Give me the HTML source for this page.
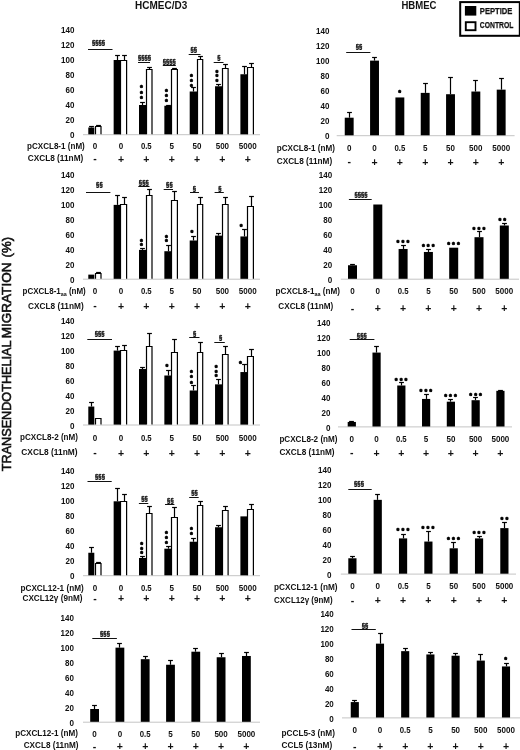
<!DOCTYPE html>
<html lang="en">
<head>
<meta charset="utf-8">
<title>Transendothelial migration</title>
<style>
html,body{margin:0;padding:0;background:#fff;}
body{width:520px;height:750px;overflow:hidden;}
svg{display:block;font-family:"Liberation Sans",sans-serif;filter:blur(0.35px);}
</style>
</head>
<body>
<svg width="520" height="750" viewBox="0 0 520 750">
<rect x="0" y="0" width="520" height="750" fill="#fff"/>
<text x="74.4" y="138.4" font-size="8.6" text-anchor="end" font-weight="bold" textLength="4.5" lengthAdjust="spacingAndGlyphs" fill="#111">0</text>
<text x="74.4" y="123.4" font-size="8.6" text-anchor="end" font-weight="bold" textLength="8.9" lengthAdjust="spacingAndGlyphs" fill="#111">20</text>
<text x="74.4" y="108.4" font-size="8.6" text-anchor="end" font-weight="bold" textLength="8.9" lengthAdjust="spacingAndGlyphs" fill="#111">40</text>
<text x="74.4" y="93.4" font-size="8.6" text-anchor="end" font-weight="bold" textLength="8.9" lengthAdjust="spacingAndGlyphs" fill="#111">60</text>
<text x="74.4" y="78.4" font-size="8.6" text-anchor="end" font-weight="bold" textLength="8.9" lengthAdjust="spacingAndGlyphs" fill="#111">80</text>
<text x="74.4" y="63.4" font-size="8.6" text-anchor="end" font-weight="bold" textLength="13.4" lengthAdjust="spacingAndGlyphs" fill="#111">100</text>
<text x="74.4" y="48.4" font-size="8.6" text-anchor="end" font-weight="bold" textLength="13.4" lengthAdjust="spacingAndGlyphs" fill="#111">120</text>
<text x="74.4" y="33.4" font-size="8.6" text-anchor="end" font-weight="bold" textLength="13.4" lengthAdjust="spacingAndGlyphs" fill="#111">140</text>
<line x1="83.00" y1="134.70" x2="260.00" y2="134.70" stroke="#c4c4c4" stroke-width="1.0"/>
<rect x="88.30" y="127.50" width="6.00" height="6.80" fill="#000"/>
<line x1="91.50" y1="127.50" x2="91.50" y2="126.00" stroke="#000" stroke-width="1.2"/>
<line x1="89.10" y1="126.50" x2="93.90" y2="126.50" stroke="#000" stroke-width="1.2"/>
<line x1="98.50" y1="126.50" x2="98.50" y2="125.00" stroke="#000" stroke-width="1.2"/>
<line x1="96.10" y1="125.50" x2="100.90" y2="125.50" stroke="#000" stroke-width="1.2"/>
<rect x="95.50" y="126.50" width="5.50" height="7.80" fill="#fff"/>
<path d="M95.5 134.3V126.5H101.0V134.3" fill="none" stroke="#000" stroke-width="1.2"/>
<rect x="113.65" y="60.00" width="7.30" height="74.30" fill="#000"/>
<line x1="117.50" y1="60.00" x2="117.50" y2="55.00" stroke="#000" stroke-width="1.2"/>
<line x1="115.10" y1="55.50" x2="119.90" y2="55.50" stroke="#000" stroke-width="1.2"/>
<line x1="124.50" y1="60.50" x2="124.50" y2="55.00" stroke="#000" stroke-width="1.2"/>
<line x1="122.10" y1="55.50" x2="126.90" y2="55.50" stroke="#000" stroke-width="1.2"/>
<rect x="120.50" y="60.50" width="6.15" height="73.80" fill="#fff"/>
<path d="M120.5 134.3V60.5H126.6V134.3" fill="none" stroke="#000" stroke-width="1.2"/>
<rect x="139.00" y="105.00" width="7.30" height="29.30" fill="#000"/>
<line x1="142.50" y1="105.00" x2="142.50" y2="102.00" stroke="#000" stroke-width="1.2"/>
<line x1="140.10" y1="102.50" x2="144.90" y2="102.50" stroke="#000" stroke-width="1.2"/>
<line x1="149.50" y1="69.50" x2="149.50" y2="67.00" stroke="#000" stroke-width="1.2"/>
<line x1="147.10" y1="67.50" x2="151.90" y2="67.50" stroke="#000" stroke-width="1.2"/>
<rect x="146.50" y="69.50" width="5.50" height="64.80" fill="#fff"/>
<path d="M146.5 134.3V69.5H152.0V134.3" fill="none" stroke="#000" stroke-width="1.2"/>
<rect x="164.35" y="105.75" width="7.30" height="28.55" fill="#000"/>
<line x1="168.50" y1="105.75" x2="168.50" y2="105.00" stroke="#000" stroke-width="1.2"/>
<line x1="166.10" y1="105.50" x2="170.90" y2="105.50" stroke="#000" stroke-width="1.2"/>
<line x1="174.50" y1="69.50" x2="174.50" y2="68.00" stroke="#000" stroke-width="1.2"/>
<line x1="172.10" y1="68.50" x2="176.90" y2="68.50" stroke="#000" stroke-width="1.2"/>
<rect x="171.50" y="69.50" width="5.85" height="64.80" fill="#fff"/>
<path d="M171.5 134.3V69.5H177.4V134.3" fill="none" stroke="#000" stroke-width="1.2"/>
<rect x="189.70" y="91.50" width="7.30" height="42.80" fill="#000"/>
<line x1="193.50" y1="91.50" x2="193.50" y2="87.00" stroke="#000" stroke-width="1.2"/>
<line x1="191.10" y1="87.50" x2="195.90" y2="87.50" stroke="#000" stroke-width="1.2"/>
<line x1="200.50" y1="59.50" x2="200.50" y2="56.00" stroke="#000" stroke-width="1.2"/>
<line x1="198.10" y1="56.50" x2="202.90" y2="56.50" stroke="#000" stroke-width="1.2"/>
<rect x="197.50" y="59.50" width="5.20" height="74.80" fill="#fff"/>
<path d="M197.5 134.3V59.5H202.7V134.3" fill="none" stroke="#000" stroke-width="1.2"/>
<rect x="215.05" y="86.25" width="7.30" height="48.05" fill="#000"/>
<line x1="218.50" y1="86.25" x2="218.50" y2="84.00" stroke="#000" stroke-width="1.2"/>
<line x1="216.10" y1="84.50" x2="220.90" y2="84.50" stroke="#000" stroke-width="1.2"/>
<line x1="225.50" y1="68.50" x2="225.50" y2="64.00" stroke="#000" stroke-width="1.2"/>
<line x1="223.10" y1="64.50" x2="227.90" y2="64.50" stroke="#000" stroke-width="1.2"/>
<rect x="222.50" y="68.50" width="5.55" height="65.80" fill="#fff"/>
<path d="M222.5 134.3V68.5H228.1V134.3" fill="none" stroke="#000" stroke-width="1.2"/>
<rect x="240.40" y="74.25" width="7.30" height="60.05" fill="#000"/>
<line x1="244.50" y1="74.25" x2="244.50" y2="66.00" stroke="#000" stroke-width="1.2"/>
<line x1="242.10" y1="66.50" x2="246.90" y2="66.50" stroke="#000" stroke-width="1.2"/>
<line x1="251.50" y1="67.50" x2="251.50" y2="63.00" stroke="#000" stroke-width="1.2"/>
<line x1="249.10" y1="63.50" x2="253.90" y2="63.50" stroke="#000" stroke-width="1.2"/>
<rect x="247.50" y="67.50" width="5.90" height="66.80" fill="#fff"/>
<path d="M247.5 134.3V67.5H253.4V134.3" fill="none" stroke="#000" stroke-width="1.2"/>
<text x="98.5" y="45.0" font-size="6.5" text-anchor="middle" font-weight="bold" textLength="13.2" lengthAdjust="spacingAndGlyphs" fill="#111" stroke="#111" stroke-width="0.35">§§§§</text>
<line x1="88.00" y1="49.50" x2="112.50" y2="49.50" stroke="#111" stroke-width="1.0"/>
<text x="144.5" y="60.4" font-size="6.5" text-anchor="middle" font-weight="bold" textLength="13.2" lengthAdjust="spacingAndGlyphs" fill="#111" stroke="#111" stroke-width="0.35">§§§§</text>
<line x1="138.00" y1="62.50" x2="150.00" y2="62.50" stroke="#111" stroke-width="1.0"/>
<text x="169.3" y="63.6" font-size="6.5" text-anchor="middle" font-weight="bold" textLength="13.2" lengthAdjust="spacingAndGlyphs" fill="#111" stroke="#111" stroke-width="0.35">§§§§</text>
<line x1="162.80" y1="65.50" x2="175.80" y2="65.50" stroke="#111" stroke-width="1.0"/>
<text x="193.8" y="52.0" font-size="6.5" text-anchor="middle" font-weight="bold" textLength="6.6" lengthAdjust="spacingAndGlyphs" fill="#111" stroke="#111" stroke-width="0.35">§§</text>
<line x1="188.70" y1="54.50" x2="200.50" y2="54.50" stroke="#111" stroke-width="1.0"/>
<text x="218.9" y="60.4" font-size="6.5" text-anchor="middle" font-weight="bold" textLength="3.3" lengthAdjust="spacingAndGlyphs" fill="#111" stroke="#111" stroke-width="0.35">§</text>
<line x1="213.70" y1="62.50" x2="223.50" y2="62.50" stroke="#111" stroke-width="1.0"/>
<text x="139.9 139.9 139.9" y="90.4 95.8 101.1" font-size="7.2" font-weight="bold" fill="#000" stroke="#000" stroke-width="0.75" stroke-linejoin="round">***</text>
<text x="164.9 164.9 164.9" y="94.1 99.0 103.8" font-size="7.2" font-weight="bold" fill="#000" stroke="#000" stroke-width="0.75" stroke-linejoin="round">***</text>
<text x="189.9 189.9 189.9" y="78.8 83.7 88.6" font-size="7.2" font-weight="bold" fill="#000" stroke="#000" stroke-width="0.75" stroke-linejoin="round">***</text>
<text x="215.5 215.5 215.5" y="74.6 79.4 84.2" font-size="7.2" font-weight="bold" fill="#000" stroke="#000" stroke-width="0.75" stroke-linejoin="round">***</text>
<text x="27.0" y="148.9" font-size="9.3" font-weight="bold" textLength="57.8" lengthAdjust="spacingAndGlyphs" fill="#111">pCXCL8-1 (nM)</text>
<text x="27.7" y="160.9" font-size="9.3" font-weight="bold" textLength="55.6" lengthAdjust="spacingAndGlyphs" fill="#111">CXCL8 (11nM)</text>
<text x="95.0" y="148.8" font-size="8.7" text-anchor="middle" font-weight="bold" textLength="4.5" lengthAdjust="spacingAndGlyphs" fill="#111">0</text>
<text x="121.0" y="148.8" font-size="8.7" text-anchor="middle" font-weight="bold" textLength="4.5" lengthAdjust="spacingAndGlyphs" fill="#111">0</text>
<text x="146.3" y="148.8" font-size="8.7" text-anchor="middle" font-weight="bold" textLength="10.8" lengthAdjust="spacingAndGlyphs" fill="#111">0.5</text>
<text x="171.7" y="148.8" font-size="8.7" text-anchor="middle" font-weight="bold" textLength="4.5" lengthAdjust="spacingAndGlyphs" fill="#111">5</text>
<text x="197.0" y="148.8" font-size="8.7" text-anchor="middle" font-weight="bold" textLength="8.9" lengthAdjust="spacingAndGlyphs" fill="#111">50</text>
<text x="222.4" y="148.8" font-size="8.7" text-anchor="middle" font-weight="bold" textLength="13.4" lengthAdjust="spacingAndGlyphs" fill="#111">500</text>
<text x="247.7" y="148.8" font-size="8.7" text-anchor="middle" font-weight="bold" textLength="17.9" lengthAdjust="spacingAndGlyphs" fill="#111">5000</text>
<text x="95.0" y="162.2" font-size="10.5" text-anchor="middle" font-weight="bold" fill="#111">-</text>
<text x="121.0" y="162.6" font-size="10.5" text-anchor="middle" font-weight="bold" fill="#111">+</text>
<text x="146.3" y="162.6" font-size="10.5" text-anchor="middle" font-weight="bold" fill="#111">+</text>
<text x="171.7" y="162.6" font-size="10.5" text-anchor="middle" font-weight="bold" fill="#111">+</text>
<text x="197.0" y="162.6" font-size="10.5" text-anchor="middle" font-weight="bold" fill="#111">+</text>
<text x="222.4" y="162.6" font-size="10.5" text-anchor="middle" font-weight="bold" fill="#111">+</text>
<text x="247.7" y="162.6" font-size="10.5" text-anchor="middle" font-weight="bold" fill="#111">+</text>
<text x="74.4" y="282.9" font-size="8.6" text-anchor="end" font-weight="bold" textLength="4.5" lengthAdjust="spacingAndGlyphs" fill="#111">0</text>
<text x="74.4" y="267.9" font-size="8.6" text-anchor="end" font-weight="bold" textLength="8.9" lengthAdjust="spacingAndGlyphs" fill="#111">20</text>
<text x="74.4" y="252.9" font-size="8.6" text-anchor="end" font-weight="bold" textLength="8.9" lengthAdjust="spacingAndGlyphs" fill="#111">40</text>
<text x="74.4" y="237.9" font-size="8.6" text-anchor="end" font-weight="bold" textLength="8.9" lengthAdjust="spacingAndGlyphs" fill="#111">60</text>
<text x="74.4" y="222.9" font-size="8.6" text-anchor="end" font-weight="bold" textLength="8.9" lengthAdjust="spacingAndGlyphs" fill="#111">80</text>
<text x="74.4" y="207.9" font-size="8.6" text-anchor="end" font-weight="bold" textLength="13.4" lengthAdjust="spacingAndGlyphs" fill="#111">100</text>
<text x="74.4" y="192.9" font-size="8.6" text-anchor="end" font-weight="bold" textLength="13.4" lengthAdjust="spacingAndGlyphs" fill="#111">120</text>
<text x="74.4" y="177.9" font-size="8.6" text-anchor="end" font-weight="bold" textLength="13.4" lengthAdjust="spacingAndGlyphs" fill="#111">140</text>
<line x1="83.00" y1="279.20" x2="260.00" y2="279.20" stroke="#c4c4c4" stroke-width="1.0"/>
<rect x="88.30" y="274.62" width="6.00" height="4.18" fill="#000"/>
<line x1="98.50" y1="273.50" x2="98.50" y2="272.00" stroke="#000" stroke-width="1.2"/>
<line x1="96.10" y1="272.50" x2="100.90" y2="272.50" stroke="#000" stroke-width="1.2"/>
<rect x="95.50" y="273.50" width="5.50" height="5.30" fill="#fff"/>
<path d="M95.5 278.8V273.5H101.0V278.8" fill="none" stroke="#000" stroke-width="1.2"/>
<rect x="113.65" y="204.88" width="7.30" height="73.93" fill="#000"/>
<line x1="117.50" y1="204.88" x2="117.50" y2="195.00" stroke="#000" stroke-width="1.2"/>
<line x1="115.10" y1="195.50" x2="119.90" y2="195.50" stroke="#000" stroke-width="1.2"/>
<line x1="124.50" y1="204.50" x2="124.50" y2="197.00" stroke="#000" stroke-width="1.2"/>
<line x1="122.10" y1="197.50" x2="126.90" y2="197.50" stroke="#000" stroke-width="1.2"/>
<rect x="120.50" y="204.50" width="6.15" height="74.30" fill="#fff"/>
<path d="M120.5 278.8V204.5H126.6V278.8" fill="none" stroke="#000" stroke-width="1.2"/>
<rect x="139.00" y="249.88" width="7.30" height="28.93" fill="#000"/>
<line x1="142.50" y1="249.88" x2="142.50" y2="248.00" stroke="#000" stroke-width="1.2"/>
<line x1="140.10" y1="248.50" x2="144.90" y2="248.50" stroke="#000" stroke-width="1.2"/>
<line x1="149.50" y1="195.50" x2="149.50" y2="189.00" stroke="#000" stroke-width="1.2"/>
<line x1="147.10" y1="189.50" x2="151.90" y2="189.50" stroke="#000" stroke-width="1.2"/>
<rect x="146.50" y="195.50" width="5.50" height="83.30" fill="#fff"/>
<path d="M146.5 278.8V195.5H152.0V278.8" fill="none" stroke="#000" stroke-width="1.2"/>
<rect x="164.35" y="251.22" width="7.30" height="27.58" fill="#000"/>
<line x1="168.50" y1="251.22" x2="168.50" y2="245.00" stroke="#000" stroke-width="1.2"/>
<line x1="166.10" y1="245.50" x2="170.90" y2="245.50" stroke="#000" stroke-width="1.2"/>
<line x1="174.50" y1="200.50" x2="174.50" y2="191.00" stroke="#000" stroke-width="1.2"/>
<line x1="172.10" y1="191.50" x2="176.90" y2="191.50" stroke="#000" stroke-width="1.2"/>
<rect x="171.50" y="200.50" width="5.85" height="78.30" fill="#fff"/>
<path d="M171.5 278.8V200.5H177.4V278.8" fill="none" stroke="#000" stroke-width="1.2"/>
<rect x="189.70" y="240.50" width="7.30" height="38.30" fill="#000"/>
<line x1="193.50" y1="240.50" x2="193.50" y2="236.00" stroke="#000" stroke-width="1.2"/>
<line x1="191.10" y1="236.50" x2="195.90" y2="236.50" stroke="#000" stroke-width="1.2"/>
<line x1="200.50" y1="204.50" x2="200.50" y2="197.00" stroke="#000" stroke-width="1.2"/>
<line x1="198.10" y1="197.50" x2="202.90" y2="197.50" stroke="#000" stroke-width="1.2"/>
<rect x="197.50" y="204.50" width="5.20" height="74.30" fill="#fff"/>
<path d="M197.5 278.8V204.5H202.7V278.8" fill="none" stroke="#000" stroke-width="1.2"/>
<rect x="215.05" y="235.62" width="7.30" height="43.18" fill="#000"/>
<line x1="218.50" y1="235.62" x2="218.50" y2="233.00" stroke="#000" stroke-width="1.2"/>
<line x1="216.10" y1="233.50" x2="220.90" y2="233.50" stroke="#000" stroke-width="1.2"/>
<line x1="225.50" y1="204.50" x2="225.50" y2="197.00" stroke="#000" stroke-width="1.2"/>
<line x1="223.10" y1="197.50" x2="227.90" y2="197.50" stroke="#000" stroke-width="1.2"/>
<rect x="222.50" y="204.50" width="5.55" height="74.30" fill="#fff"/>
<path d="M222.5 278.8V204.5H228.1V278.8" fill="none" stroke="#000" stroke-width="1.2"/>
<rect x="240.40" y="236.45" width="7.30" height="42.35" fill="#000"/>
<line x1="244.50" y1="236.45" x2="244.50" y2="229.00" stroke="#000" stroke-width="1.2"/>
<line x1="242.10" y1="229.50" x2="246.90" y2="229.50" stroke="#000" stroke-width="1.2"/>
<line x1="251.50" y1="206.50" x2="251.50" y2="196.00" stroke="#000" stroke-width="1.2"/>
<line x1="249.10" y1="196.50" x2="253.90" y2="196.50" stroke="#000" stroke-width="1.2"/>
<rect x="247.50" y="206.50" width="5.90" height="72.30" fill="#fff"/>
<path d="M247.5 278.8V206.5H253.4V278.8" fill="none" stroke="#000" stroke-width="1.2"/>
<text x="99.4" y="187.3" font-size="6.5" text-anchor="middle" font-weight="bold" textLength="6.6" lengthAdjust="spacingAndGlyphs" fill="#111" stroke="#111" stroke-width="0.35">§§</text>
<line x1="86.00" y1="192.50" x2="110.40" y2="192.50" stroke="#111" stroke-width="1.0"/>
<text x="143.8" y="184.5" font-size="6.5" text-anchor="middle" font-weight="bold" textLength="9.9" lengthAdjust="spacingAndGlyphs" fill="#111" stroke="#111" stroke-width="0.35">§§§</text>
<line x1="138.30" y1="186.50" x2="149.50" y2="186.50" stroke="#111" stroke-width="1.0"/>
<text x="169.4" y="187.1" font-size="6.5" text-anchor="middle" font-weight="bold" textLength="6.6" lengthAdjust="spacingAndGlyphs" fill="#111" stroke="#111" stroke-width="0.35">§§</text>
<line x1="163.70" y1="189.50" x2="173.00" y2="189.50" stroke="#111" stroke-width="1.0"/>
<text x="194.3" y="190.6" font-size="6.5" text-anchor="middle" font-weight="bold" textLength="3.3" lengthAdjust="spacingAndGlyphs" fill="#111" stroke="#111" stroke-width="0.35">§</text>
<line x1="190.00" y1="192.50" x2="199.00" y2="192.50" stroke="#111" stroke-width="1.0"/>
<text x="220.0" y="190.6" font-size="6.5" text-anchor="middle" font-weight="bold" textLength="3.3" lengthAdjust="spacingAndGlyphs" fill="#111" stroke="#111" stroke-width="0.35">§</text>
<line x1="214.60" y1="192.50" x2="223.80" y2="192.50" stroke="#111" stroke-width="1.0"/>
<text x="139.9 139.9" y="243.5 248.2" font-size="7.2" font-weight="bold" fill="#000" stroke="#000" stroke-width="0.75" stroke-linejoin="round">**</text>
<text x="164.9 164.9" y="239.5 244.3" font-size="7.2" font-weight="bold" fill="#000" stroke="#000" stroke-width="0.75" stroke-linejoin="round">**</text>
<text x="190.6" y="235.4" font-size="7.2" font-weight="bold" fill="#000" stroke="#000" stroke-width="0.75" stroke-linejoin="round">*</text>
<text x="239.8" y="229.2" font-size="7.2" font-weight="bold" fill="#000" stroke="#000" stroke-width="0.75" stroke-linejoin="round">*</text>
<text x="22.5" y="294.3" font-size="9.3" font-weight="bold" fill="#111" textLength="63.3" lengthAdjust="spacingAndGlyphs">pCXCL8-1<tspan font-size="6.2" dy="1.4">aa</tspan><tspan dy="-1.4"> (nM)</tspan></text>
<text x="28.0" y="309.2" font-size="9.3" font-weight="bold" textLength="55.7" lengthAdjust="spacingAndGlyphs" fill="#111">CXCL8 (11nM)</text>
<text x="95.0" y="294.0" font-size="8.7" text-anchor="middle" font-weight="bold" textLength="4.5" lengthAdjust="spacingAndGlyphs" fill="#111">0</text>
<text x="121.0" y="294.0" font-size="8.7" text-anchor="middle" font-weight="bold" textLength="4.5" lengthAdjust="spacingAndGlyphs" fill="#111">0</text>
<text x="146.3" y="294.0" font-size="8.7" text-anchor="middle" font-weight="bold" textLength="10.8" lengthAdjust="spacingAndGlyphs" fill="#111">0.5</text>
<text x="171.7" y="294.0" font-size="8.7" text-anchor="middle" font-weight="bold" textLength="4.5" lengthAdjust="spacingAndGlyphs" fill="#111">5</text>
<text x="197.0" y="294.0" font-size="8.7" text-anchor="middle" font-weight="bold" textLength="8.9" lengthAdjust="spacingAndGlyphs" fill="#111">50</text>
<text x="222.4" y="294.0" font-size="8.7" text-anchor="middle" font-weight="bold" textLength="13.4" lengthAdjust="spacingAndGlyphs" fill="#111">500</text>
<text x="247.7" y="294.0" font-size="8.7" text-anchor="middle" font-weight="bold" textLength="17.9" lengthAdjust="spacingAndGlyphs" fill="#111">5000</text>
<text x="95.0" y="309.1" font-size="10.5" text-anchor="middle" font-weight="bold" fill="#111">-</text>
<text x="121.0" y="309.5" font-size="10.5" text-anchor="middle" font-weight="bold" fill="#111">+</text>
<text x="146.3" y="309.5" font-size="10.5" text-anchor="middle" font-weight="bold" fill="#111">+</text>
<text x="171.7" y="309.5" font-size="10.5" text-anchor="middle" font-weight="bold" fill="#111">+</text>
<text x="197.0" y="309.5" font-size="10.5" text-anchor="middle" font-weight="bold" fill="#111">+</text>
<text x="222.4" y="309.5" font-size="10.5" text-anchor="middle" font-weight="bold" fill="#111">+</text>
<text x="247.7" y="309.5" font-size="10.5" text-anchor="middle" font-weight="bold" fill="#111">+</text>
<text x="74.4" y="428.7" font-size="8.6" text-anchor="end" font-weight="bold" textLength="4.5" lengthAdjust="spacingAndGlyphs" fill="#111">0</text>
<text x="74.4" y="413.7" font-size="8.6" text-anchor="end" font-weight="bold" textLength="8.9" lengthAdjust="spacingAndGlyphs" fill="#111">20</text>
<text x="74.4" y="398.7" font-size="8.6" text-anchor="end" font-weight="bold" textLength="8.9" lengthAdjust="spacingAndGlyphs" fill="#111">40</text>
<text x="74.4" y="383.7" font-size="8.6" text-anchor="end" font-weight="bold" textLength="8.9" lengthAdjust="spacingAndGlyphs" fill="#111">60</text>
<text x="74.4" y="368.7" font-size="8.6" text-anchor="end" font-weight="bold" textLength="8.9" lengthAdjust="spacingAndGlyphs" fill="#111">80</text>
<text x="74.4" y="353.7" font-size="8.6" text-anchor="end" font-weight="bold" textLength="13.4" lengthAdjust="spacingAndGlyphs" fill="#111">100</text>
<text x="74.4" y="338.7" font-size="8.6" text-anchor="end" font-weight="bold" textLength="13.4" lengthAdjust="spacingAndGlyphs" fill="#111">120</text>
<text x="74.4" y="323.7" font-size="8.6" text-anchor="end" font-weight="bold" textLength="13.4" lengthAdjust="spacingAndGlyphs" fill="#111">140</text>
<line x1="83.00" y1="425.00" x2="260.00" y2="425.00" stroke="#c4c4c4" stroke-width="1.0"/>
<rect x="88.30" y="406.55" width="6.00" height="18.05" fill="#000"/>
<line x1="91.50" y1="406.55" x2="91.50" y2="402.00" stroke="#000" stroke-width="1.2"/>
<line x1="89.10" y1="402.50" x2="93.90" y2="402.50" stroke="#000" stroke-width="1.2"/>
<rect x="95.50" y="418.50" width="5.50" height="6.10" fill="#fff"/>
<path d="M95.5 424.6V418.5H101.0V424.6" fill="none" stroke="#000" stroke-width="1.2"/>
<rect x="113.65" y="350.60" width="7.30" height="74.00" fill="#000"/>
<line x1="117.50" y1="350.60" x2="117.50" y2="346.00" stroke="#000" stroke-width="1.2"/>
<line x1="115.10" y1="346.50" x2="119.90" y2="346.50" stroke="#000" stroke-width="1.2"/>
<line x1="124.50" y1="350.50" x2="124.50" y2="345.00" stroke="#000" stroke-width="1.2"/>
<line x1="122.10" y1="345.50" x2="126.90" y2="345.50" stroke="#000" stroke-width="1.2"/>
<rect x="120.50" y="350.50" width="6.15" height="74.10" fill="#fff"/>
<path d="M120.5 424.6V350.5H126.6V424.6" fill="none" stroke="#000" stroke-width="1.2"/>
<rect x="139.00" y="369.05" width="7.30" height="55.55" fill="#000"/>
<line x1="142.50" y1="369.05" x2="142.50" y2="367.00" stroke="#000" stroke-width="1.2"/>
<line x1="140.10" y1="367.50" x2="144.90" y2="367.50" stroke="#000" stroke-width="1.2"/>
<line x1="149.50" y1="346.50" x2="149.50" y2="333.00" stroke="#000" stroke-width="1.2"/>
<line x1="147.10" y1="333.50" x2="151.90" y2="333.50" stroke="#000" stroke-width="1.2"/>
<rect x="146.50" y="346.50" width="5.50" height="78.10" fill="#fff"/>
<path d="M146.5 424.6V346.5H152.0V424.6" fill="none" stroke="#000" stroke-width="1.2"/>
<rect x="164.35" y="375.50" width="7.30" height="49.10" fill="#000"/>
<line x1="168.50" y1="375.50" x2="168.50" y2="370.00" stroke="#000" stroke-width="1.2"/>
<line x1="166.10" y1="370.50" x2="170.90" y2="370.50" stroke="#000" stroke-width="1.2"/>
<line x1="174.50" y1="352.50" x2="174.50" y2="339.00" stroke="#000" stroke-width="1.2"/>
<line x1="172.10" y1="339.50" x2="176.90" y2="339.50" stroke="#000" stroke-width="1.2"/>
<rect x="171.50" y="352.50" width="5.85" height="72.10" fill="#fff"/>
<path d="M171.5 424.6V352.5H177.4V424.6" fill="none" stroke="#000" stroke-width="1.2"/>
<rect x="189.70" y="390.50" width="7.30" height="34.10" fill="#000"/>
<line x1="193.50" y1="390.50" x2="193.50" y2="385.00" stroke="#000" stroke-width="1.2"/>
<line x1="191.10" y1="385.50" x2="195.90" y2="385.50" stroke="#000" stroke-width="1.2"/>
<line x1="200.50" y1="352.50" x2="200.50" y2="342.00" stroke="#000" stroke-width="1.2"/>
<line x1="198.10" y1="342.50" x2="202.90" y2="342.50" stroke="#000" stroke-width="1.2"/>
<rect x="197.50" y="352.50" width="5.20" height="72.10" fill="#fff"/>
<path d="M197.5 424.6V352.5H202.7V424.6" fill="none" stroke="#000" stroke-width="1.2"/>
<rect x="215.05" y="384.35" width="7.30" height="40.25" fill="#000"/>
<line x1="218.50" y1="384.35" x2="218.50" y2="379.00" stroke="#000" stroke-width="1.2"/>
<line x1="216.10" y1="379.50" x2="220.90" y2="379.50" stroke="#000" stroke-width="1.2"/>
<line x1="225.50" y1="354.50" x2="225.50" y2="346.00" stroke="#000" stroke-width="1.2"/>
<line x1="223.10" y1="346.50" x2="227.90" y2="346.50" stroke="#000" stroke-width="1.2"/>
<rect x="222.50" y="354.50" width="5.55" height="70.10" fill="#fff"/>
<path d="M222.5 424.6V354.5H228.1V424.6" fill="none" stroke="#000" stroke-width="1.2"/>
<rect x="240.40" y="372.05" width="7.30" height="52.55" fill="#000"/>
<line x1="244.50" y1="372.05" x2="244.50" y2="364.00" stroke="#000" stroke-width="1.2"/>
<line x1="242.10" y1="364.50" x2="246.90" y2="364.50" stroke="#000" stroke-width="1.2"/>
<line x1="251.50" y1="356.50" x2="251.50" y2="349.00" stroke="#000" stroke-width="1.2"/>
<line x1="249.10" y1="349.50" x2="253.90" y2="349.50" stroke="#000" stroke-width="1.2"/>
<rect x="247.50" y="356.50" width="5.90" height="68.10" fill="#fff"/>
<path d="M247.5 424.6V356.5H253.4V424.6" fill="none" stroke="#000" stroke-width="1.2"/>
<text x="99.6" y="336.3" font-size="6.5" text-anchor="middle" font-weight="bold" textLength="9.9" lengthAdjust="spacingAndGlyphs" fill="#111" stroke="#111" stroke-width="0.35">§§§</text>
<line x1="87.30" y1="339.50" x2="112.00" y2="339.50" stroke="#111" stroke-width="1.0"/>
<text x="194.6" y="335.7" font-size="6.5" text-anchor="middle" font-weight="bold" textLength="3.3" lengthAdjust="spacingAndGlyphs" fill="#111" stroke="#111" stroke-width="0.35">§</text>
<line x1="189.20" y1="337.50" x2="199.50" y2="337.50" stroke="#111" stroke-width="1.0"/>
<text x="220.7" y="340.1" font-size="6.5" text-anchor="middle" font-weight="bold" textLength="3.3" lengthAdjust="spacingAndGlyphs" fill="#111" stroke="#111" stroke-width="0.35">§</text>
<line x1="214.30" y1="342.50" x2="224.80" y2="342.50" stroke="#111" stroke-width="1.0"/>
<text x="165.4" y="369.3" font-size="7.2" font-weight="bold" fill="#000" stroke="#000" stroke-width="0.75" stroke-linejoin="round">*</text>
<text x="190.0 190.0 190.0" y="375.0 380.2 385.5" font-size="7.2" font-weight="bold" fill="#000" stroke="#000" stroke-width="0.75" stroke-linejoin="round">***</text>
<text x="214.8 214.8 214.8" y="369.8 374.6 379.4" font-size="7.2" font-weight="bold" fill="#000" stroke="#000" stroke-width="0.75" stroke-linejoin="round">***</text>
<text x="239.0" y="365.6" font-size="7.2" font-weight="bold" fill="#000" stroke="#000" stroke-width="0.75" stroke-linejoin="round">*</text>
<text x="20.0" y="440.2" font-size="9.3" font-weight="bold" textLength="58.0" lengthAdjust="spacingAndGlyphs" fill="#111">pCXCL8-2 (nM)</text>
<text x="21.3" y="454.9" font-size="9.3" font-weight="bold" textLength="56.2" lengthAdjust="spacingAndGlyphs" fill="#111">CXCL8 (11nM)</text>
<text x="95.0" y="440.5" font-size="8.7" text-anchor="middle" font-weight="bold" textLength="4.5" lengthAdjust="spacingAndGlyphs" fill="#111">0</text>
<text x="121.0" y="440.5" font-size="8.7" text-anchor="middle" font-weight="bold" textLength="4.5" lengthAdjust="spacingAndGlyphs" fill="#111">0</text>
<text x="146.3" y="440.5" font-size="8.7" text-anchor="middle" font-weight="bold" textLength="10.8" lengthAdjust="spacingAndGlyphs" fill="#111">0.5</text>
<text x="171.7" y="440.5" font-size="8.7" text-anchor="middle" font-weight="bold" textLength="4.5" lengthAdjust="spacingAndGlyphs" fill="#111">5</text>
<text x="197.0" y="440.5" font-size="8.7" text-anchor="middle" font-weight="bold" textLength="8.9" lengthAdjust="spacingAndGlyphs" fill="#111">50</text>
<text x="222.4" y="440.5" font-size="8.7" text-anchor="middle" font-weight="bold" textLength="13.4" lengthAdjust="spacingAndGlyphs" fill="#111">500</text>
<text x="247.7" y="440.5" font-size="8.7" text-anchor="middle" font-weight="bold" textLength="17.9" lengthAdjust="spacingAndGlyphs" fill="#111">5000</text>
<text x="95.0" y="456.3" font-size="10.5" text-anchor="middle" font-weight="bold" fill="#111">-</text>
<text x="121.0" y="456.7" font-size="10.5" text-anchor="middle" font-weight="bold" fill="#111">+</text>
<text x="146.3" y="456.7" font-size="10.5" text-anchor="middle" font-weight="bold" fill="#111">+</text>
<text x="171.7" y="456.7" font-size="10.5" text-anchor="middle" font-weight="bold" fill="#111">+</text>
<text x="197.0" y="456.7" font-size="10.5" text-anchor="middle" font-weight="bold" fill="#111">+</text>
<text x="222.4" y="456.7" font-size="10.5" text-anchor="middle" font-weight="bold" fill="#111">+</text>
<text x="247.7" y="456.7" font-size="10.5" text-anchor="middle" font-weight="bold" fill="#111">+</text>
<text x="74.4" y="579.4" font-size="8.6" text-anchor="end" font-weight="bold" textLength="4.5" lengthAdjust="spacingAndGlyphs" fill="#111">0</text>
<text x="74.4" y="564.4" font-size="8.6" text-anchor="end" font-weight="bold" textLength="8.9" lengthAdjust="spacingAndGlyphs" fill="#111">20</text>
<text x="74.4" y="549.4" font-size="8.6" text-anchor="end" font-weight="bold" textLength="8.9" lengthAdjust="spacingAndGlyphs" fill="#111">40</text>
<text x="74.4" y="534.4" font-size="8.6" text-anchor="end" font-weight="bold" textLength="8.9" lengthAdjust="spacingAndGlyphs" fill="#111">60</text>
<text x="74.4" y="519.4" font-size="8.6" text-anchor="end" font-weight="bold" textLength="8.9" lengthAdjust="spacingAndGlyphs" fill="#111">80</text>
<text x="74.4" y="504.4" font-size="8.6" text-anchor="end" font-weight="bold" textLength="13.4" lengthAdjust="spacingAndGlyphs" fill="#111">100</text>
<text x="74.4" y="489.4" font-size="8.6" text-anchor="end" font-weight="bold" textLength="13.4" lengthAdjust="spacingAndGlyphs" fill="#111">120</text>
<text x="74.4" y="474.4" font-size="8.6" text-anchor="end" font-weight="bold" textLength="13.4" lengthAdjust="spacingAndGlyphs" fill="#111">140</text>
<line x1="83.00" y1="575.70" x2="260.00" y2="575.70" stroke="#c4c4c4" stroke-width="1.0"/>
<rect x="88.30" y="552.75" width="6.00" height="22.55" fill="#000"/>
<line x1="91.50" y1="552.75" x2="91.50" y2="547.00" stroke="#000" stroke-width="1.2"/>
<line x1="89.10" y1="547.50" x2="93.90" y2="547.50" stroke="#000" stroke-width="1.2"/>
<line x1="98.50" y1="563.50" x2="98.50" y2="562.00" stroke="#000" stroke-width="1.2"/>
<line x1="96.10" y1="562.50" x2="100.90" y2="562.50" stroke="#000" stroke-width="1.2"/>
<rect x="95.50" y="563.50" width="5.50" height="11.80" fill="#fff"/>
<path d="M95.5 575.3V563.5H101.0V575.3" fill="none" stroke="#000" stroke-width="1.2"/>
<rect x="113.65" y="501.30" width="7.30" height="74.00" fill="#000"/>
<line x1="117.50" y1="501.30" x2="117.50" y2="488.00" stroke="#000" stroke-width="1.2"/>
<line x1="115.10" y1="488.50" x2="119.90" y2="488.50" stroke="#000" stroke-width="1.2"/>
<line x1="124.50" y1="501.50" x2="124.50" y2="494.00" stroke="#000" stroke-width="1.2"/>
<line x1="122.10" y1="494.50" x2="126.90" y2="494.50" stroke="#000" stroke-width="1.2"/>
<rect x="120.50" y="501.50" width="6.15" height="73.80" fill="#fff"/>
<path d="M120.5 575.3V501.5H126.6V575.3" fill="none" stroke="#000" stroke-width="1.2"/>
<rect x="139.00" y="558.00" width="7.30" height="17.30" fill="#000"/>
<line x1="142.50" y1="558.00" x2="142.50" y2="556.00" stroke="#000" stroke-width="1.2"/>
<line x1="140.10" y1="556.50" x2="144.90" y2="556.50" stroke="#000" stroke-width="1.2"/>
<line x1="149.50" y1="513.50" x2="149.50" y2="506.00" stroke="#000" stroke-width="1.2"/>
<line x1="147.10" y1="506.50" x2="151.90" y2="506.50" stroke="#000" stroke-width="1.2"/>
<rect x="146.50" y="513.50" width="5.50" height="61.80" fill="#fff"/>
<path d="M146.5 575.3V513.5H152.0V575.3" fill="none" stroke="#000" stroke-width="1.2"/>
<rect x="164.35" y="548.70" width="7.30" height="26.60" fill="#000"/>
<line x1="168.50" y1="548.70" x2="168.50" y2="546.00" stroke="#000" stroke-width="1.2"/>
<line x1="166.10" y1="546.50" x2="170.90" y2="546.50" stroke="#000" stroke-width="1.2"/>
<line x1="174.50" y1="517.50" x2="174.50" y2="507.00" stroke="#000" stroke-width="1.2"/>
<line x1="172.10" y1="507.50" x2="176.90" y2="507.50" stroke="#000" stroke-width="1.2"/>
<rect x="171.50" y="517.50" width="5.85" height="57.80" fill="#fff"/>
<path d="M171.5 575.3V517.5H177.4V575.3" fill="none" stroke="#000" stroke-width="1.2"/>
<rect x="189.70" y="541.73" width="7.30" height="33.57" fill="#000"/>
<line x1="193.50" y1="541.73" x2="193.50" y2="538.00" stroke="#000" stroke-width="1.2"/>
<line x1="191.10" y1="538.50" x2="195.90" y2="538.50" stroke="#000" stroke-width="1.2"/>
<line x1="200.50" y1="505.50" x2="200.50" y2="501.00" stroke="#000" stroke-width="1.2"/>
<line x1="198.10" y1="501.50" x2="202.90" y2="501.50" stroke="#000" stroke-width="1.2"/>
<rect x="197.50" y="505.50" width="5.20" height="69.80" fill="#fff"/>
<path d="M197.5 575.3V505.5H202.7V575.3" fill="none" stroke="#000" stroke-width="1.2"/>
<rect x="215.05" y="527.25" width="7.30" height="48.05" fill="#000"/>
<line x1="218.50" y1="527.25" x2="218.50" y2="525.00" stroke="#000" stroke-width="1.2"/>
<line x1="216.10" y1="525.50" x2="220.90" y2="525.50" stroke="#000" stroke-width="1.2"/>
<line x1="225.50" y1="510.50" x2="225.50" y2="506.00" stroke="#000" stroke-width="1.2"/>
<line x1="223.10" y1="506.50" x2="227.90" y2="506.50" stroke="#000" stroke-width="1.2"/>
<rect x="222.50" y="510.50" width="5.55" height="64.80" fill="#fff"/>
<path d="M222.5 575.3V510.5H228.1V575.3" fill="none" stroke="#000" stroke-width="1.2"/>
<rect x="240.40" y="516.38" width="7.30" height="58.92" fill="#000"/>
<line x1="251.50" y1="509.50" x2="251.50" y2="504.00" stroke="#000" stroke-width="1.2"/>
<line x1="249.10" y1="504.50" x2="253.90" y2="504.50" stroke="#000" stroke-width="1.2"/>
<rect x="247.50" y="509.50" width="5.90" height="65.80" fill="#fff"/>
<path d="M247.5 575.3V509.5H253.4V575.3" fill="none" stroke="#000" stroke-width="1.2"/>
<text x="100.0" y="479.4" font-size="6.5" text-anchor="middle" font-weight="bold" textLength="9.9" lengthAdjust="spacingAndGlyphs" fill="#111" stroke="#111" stroke-width="0.35">§§§</text>
<line x1="87.50" y1="481.50" x2="111.70" y2="481.50" stroke="#111" stroke-width="1.0"/>
<text x="144.6" y="500.6" font-size="6.5" text-anchor="middle" font-weight="bold" textLength="6.6" lengthAdjust="spacingAndGlyphs" fill="#111" stroke="#111" stroke-width="0.35">§§</text>
<line x1="138.90" y1="503.50" x2="148.30" y2="503.50" stroke="#111" stroke-width="1.0"/>
<text x="170.4" y="503.2" font-size="6.5" text-anchor="middle" font-weight="bold" textLength="6.6" lengthAdjust="spacingAndGlyphs" fill="#111" stroke="#111" stroke-width="0.35">§§</text>
<line x1="165.00" y1="504.50" x2="174.40" y2="504.50" stroke="#111" stroke-width="1.0"/>
<text x="194.6" y="495.4" font-size="6.5" text-anchor="middle" font-weight="bold" textLength="6.6" lengthAdjust="spacingAndGlyphs" fill="#111" stroke="#111" stroke-width="0.35">§§</text>
<line x1="189.20" y1="497.50" x2="198.70" y2="497.50" stroke="#111" stroke-width="1.0"/>
<text x="140.2 140.2 140.2" y="546.6 551.6 556.4" font-size="7.2" font-weight="bold" fill="#000" stroke="#000" stroke-width="0.75" stroke-linejoin="round">***</text>
<text x="164.9 164.9 164.9" y="536.4 541.2 546.2" font-size="7.2" font-weight="bold" fill="#000" stroke="#000" stroke-width="0.75" stroke-linejoin="round">***</text>
<text x="190.0 190.0" y="532.3 537.2" font-size="7.2" font-weight="bold" fill="#000" stroke="#000" stroke-width="0.75" stroke-linejoin="round">**</text>
<text x="20.5" y="590.6" font-size="9.3" font-weight="bold" textLength="63.2" lengthAdjust="spacingAndGlyphs" fill="#111">pCXCL12-1 (nM)</text>
<text x="22.5" y="601.1" font-size="9.3" font-weight="bold" textLength="60.0" lengthAdjust="spacingAndGlyphs" fill="#111">CXCL12γ (9nM)</text>
<text x="95.0" y="590.9" font-size="8.7" text-anchor="middle" font-weight="bold" textLength="4.5" lengthAdjust="spacingAndGlyphs" fill="#111">0</text>
<text x="121.0" y="590.9" font-size="8.7" text-anchor="middle" font-weight="bold" textLength="4.5" lengthAdjust="spacingAndGlyphs" fill="#111">0</text>
<text x="146.3" y="590.9" font-size="8.7" text-anchor="middle" font-weight="bold" textLength="10.8" lengthAdjust="spacingAndGlyphs" fill="#111">0.5</text>
<text x="171.7" y="590.9" font-size="8.7" text-anchor="middle" font-weight="bold" textLength="4.5" lengthAdjust="spacingAndGlyphs" fill="#111">5</text>
<text x="197.0" y="590.9" font-size="8.7" text-anchor="middle" font-weight="bold" textLength="8.9" lengthAdjust="spacingAndGlyphs" fill="#111">50</text>
<text x="222.4" y="590.9" font-size="8.7" text-anchor="middle" font-weight="bold" textLength="13.4" lengthAdjust="spacingAndGlyphs" fill="#111">500</text>
<text x="247.7" y="590.9" font-size="8.7" text-anchor="middle" font-weight="bold" textLength="17.9" lengthAdjust="spacingAndGlyphs" fill="#111">5000</text>
<text x="95.0" y="601.9" font-size="10.5" text-anchor="middle" font-weight="bold" fill="#111">-</text>
<text x="121.0" y="602.3" font-size="10.5" text-anchor="middle" font-weight="bold" fill="#111">+</text>
<text x="146.3" y="602.3" font-size="10.5" text-anchor="middle" font-weight="bold" fill="#111">+</text>
<text x="171.7" y="602.3" font-size="10.5" text-anchor="middle" font-weight="bold" fill="#111">+</text>
<text x="197.0" y="602.3" font-size="10.5" text-anchor="middle" font-weight="bold" fill="#111">+</text>
<text x="222.4" y="602.3" font-size="10.5" text-anchor="middle" font-weight="bold" fill="#111">+</text>
<text x="247.7" y="602.3" font-size="10.5" text-anchor="middle" font-weight="bold" fill="#111">+</text>
<text x="74.0" y="725.9" font-size="8.6" text-anchor="end" font-weight="bold" textLength="4.5" lengthAdjust="spacingAndGlyphs" fill="#111">0</text>
<text x="74.0" y="710.9" font-size="8.6" text-anchor="end" font-weight="bold" textLength="8.9" lengthAdjust="spacingAndGlyphs" fill="#111">20</text>
<text x="74.0" y="695.9" font-size="8.6" text-anchor="end" font-weight="bold" textLength="8.9" lengthAdjust="spacingAndGlyphs" fill="#111">40</text>
<text x="74.0" y="680.9" font-size="8.6" text-anchor="end" font-weight="bold" textLength="8.9" lengthAdjust="spacingAndGlyphs" fill="#111">60</text>
<text x="74.0" y="665.9" font-size="8.6" text-anchor="end" font-weight="bold" textLength="8.9" lengthAdjust="spacingAndGlyphs" fill="#111">80</text>
<text x="74.0" y="650.9" font-size="8.6" text-anchor="end" font-weight="bold" textLength="13.4" lengthAdjust="spacingAndGlyphs" fill="#111">100</text>
<text x="74.0" y="635.9" font-size="8.6" text-anchor="end" font-weight="bold" textLength="13.4" lengthAdjust="spacingAndGlyphs" fill="#111">120</text>
<text x="74.0" y="620.9" font-size="8.6" text-anchor="end" font-weight="bold" textLength="13.4" lengthAdjust="spacingAndGlyphs" fill="#111">140</text>
<line x1="83.00" y1="722.20" x2="260.00" y2="722.20" stroke="#c4c4c4" stroke-width="1.0"/>
<rect x="90.20" y="709.00" width="8.80" height="12.80" fill="#000"/>
<line x1="94.50" y1="709.00" x2="94.50" y2="705.00" stroke="#000" stroke-width="1.2"/>
<line x1="92.10" y1="705.50" x2="96.90" y2="705.50" stroke="#000" stroke-width="1.2"/>
<rect x="115.50" y="647.65" width="8.80" height="74.15" fill="#000"/>
<line x1="119.50" y1="647.65" x2="119.50" y2="643.00" stroke="#000" stroke-width="1.2"/>
<line x1="117.10" y1="643.50" x2="121.90" y2="643.50" stroke="#000" stroke-width="1.2"/>
<rect x="140.80" y="659.20" width="8.80" height="62.60" fill="#000"/>
<line x1="145.50" y1="659.20" x2="145.50" y2="656.00" stroke="#000" stroke-width="1.2"/>
<line x1="143.10" y1="656.50" x2="147.90" y2="656.50" stroke="#000" stroke-width="1.2"/>
<rect x="166.10" y="664.75" width="8.80" height="57.05" fill="#000"/>
<line x1="170.50" y1="664.75" x2="170.50" y2="660.00" stroke="#000" stroke-width="1.2"/>
<line x1="168.10" y1="660.50" x2="172.90" y2="660.50" stroke="#000" stroke-width="1.2"/>
<rect x="191.40" y="651.70" width="8.80" height="70.10" fill="#000"/>
<line x1="195.50" y1="651.70" x2="195.50" y2="648.00" stroke="#000" stroke-width="1.2"/>
<line x1="193.10" y1="648.50" x2="197.90" y2="648.50" stroke="#000" stroke-width="1.2"/>
<rect x="216.70" y="657.25" width="8.80" height="64.55" fill="#000"/>
<line x1="221.50" y1="657.25" x2="221.50" y2="653.00" stroke="#000" stroke-width="1.2"/>
<line x1="219.10" y1="653.50" x2="223.90" y2="653.50" stroke="#000" stroke-width="1.2"/>
<rect x="242.00" y="655.98" width="8.80" height="65.82" fill="#000"/>
<line x1="246.50" y1="655.98" x2="246.50" y2="652.00" stroke="#000" stroke-width="1.2"/>
<line x1="244.10" y1="652.50" x2="248.90" y2="652.50" stroke="#000" stroke-width="1.2"/>
<text x="105.0" y="635.5" font-size="6.5" text-anchor="middle" font-weight="bold" textLength="9.9" lengthAdjust="spacingAndGlyphs" fill="#111" stroke="#111" stroke-width="0.35">§§§</text>
<line x1="92.30" y1="638.50" x2="116.90" y2="638.50" stroke="#111" stroke-width="1.0"/>
<text x="15.2" y="736.2" font-size="9.3" font-weight="bold" textLength="62.8" lengthAdjust="spacingAndGlyphs" fill="#111">pCXCL12-1 (nM)</text>
<text x="23.7" y="747.9" font-size="9.3" font-weight="bold" textLength="54.9" lengthAdjust="spacingAndGlyphs" fill="#111">CXCL8 (11nM)</text>
<text x="94.6" y="736.9" font-size="8.7" text-anchor="middle" font-weight="bold" textLength="4.5" lengthAdjust="spacingAndGlyphs" fill="#111">0</text>
<text x="119.9" y="736.9" font-size="8.7" text-anchor="middle" font-weight="bold" textLength="4.5" lengthAdjust="spacingAndGlyphs" fill="#111">0</text>
<text x="145.2" y="736.9" font-size="8.7" text-anchor="middle" font-weight="bold" textLength="10.8" lengthAdjust="spacingAndGlyphs" fill="#111">0.5</text>
<text x="170.5" y="736.9" font-size="8.7" text-anchor="middle" font-weight="bold" textLength="4.5" lengthAdjust="spacingAndGlyphs" fill="#111">5</text>
<text x="195.8" y="736.9" font-size="8.7" text-anchor="middle" font-weight="bold" textLength="8.9" lengthAdjust="spacingAndGlyphs" fill="#111">50</text>
<text x="221.1" y="736.9" font-size="8.7" text-anchor="middle" font-weight="bold" textLength="13.4" lengthAdjust="spacingAndGlyphs" fill="#111">500</text>
<text x="246.4" y="736.9" font-size="8.7" text-anchor="middle" font-weight="bold" textLength="17.9" lengthAdjust="spacingAndGlyphs" fill="#111">5000</text>
<text x="94.6" y="750.0" font-size="10.5" text-anchor="middle" font-weight="bold" fill="#111">-</text>
<text x="119.9" y="750.4" font-size="10.5" text-anchor="middle" font-weight="bold" fill="#111">+</text>
<text x="145.2" y="750.4" font-size="10.5" text-anchor="middle" font-weight="bold" fill="#111">+</text>
<text x="170.5" y="750.4" font-size="10.5" text-anchor="middle" font-weight="bold" fill="#111">+</text>
<text x="195.8" y="750.4" font-size="10.5" text-anchor="middle" font-weight="bold" fill="#111">+</text>
<text x="221.1" y="750.4" font-size="10.5" text-anchor="middle" font-weight="bold" fill="#111">+</text>
<text x="246.4" y="750.4" font-size="10.5" text-anchor="middle" font-weight="bold" fill="#111">+</text>
<text x="329.5" y="139.4" font-size="8.6" text-anchor="end" font-weight="bold" textLength="4.5" lengthAdjust="spacingAndGlyphs" fill="#111">0</text>
<text x="329.5" y="124.4" font-size="8.6" text-anchor="end" font-weight="bold" textLength="8.9" lengthAdjust="spacingAndGlyphs" fill="#111">20</text>
<text x="329.5" y="109.4" font-size="8.6" text-anchor="end" font-weight="bold" textLength="8.9" lengthAdjust="spacingAndGlyphs" fill="#111">40</text>
<text x="329.5" y="94.4" font-size="8.6" text-anchor="end" font-weight="bold" textLength="8.9" lengthAdjust="spacingAndGlyphs" fill="#111">60</text>
<text x="329.5" y="79.4" font-size="8.6" text-anchor="end" font-weight="bold" textLength="8.9" lengthAdjust="spacingAndGlyphs" fill="#111">80</text>
<text x="329.5" y="64.4" font-size="8.6" text-anchor="end" font-weight="bold" textLength="13.4" lengthAdjust="spacingAndGlyphs" fill="#111">100</text>
<text x="329.5" y="49.4" font-size="8.6" text-anchor="end" font-weight="bold" textLength="13.4" lengthAdjust="spacingAndGlyphs" fill="#111">120</text>
<text x="329.5" y="34.4" font-size="8.6" text-anchor="end" font-weight="bold" textLength="13.4" lengthAdjust="spacingAndGlyphs" fill="#111">140</text>
<line x1="336.70" y1="135.70" x2="514.60" y2="135.70" stroke="#c4c4c4" stroke-width="1.0"/>
<rect x="344.75" y="117.70" width="8.90" height="17.60" fill="#000"/>
<line x1="349.50" y1="117.70" x2="349.50" y2="112.00" stroke="#000" stroke-width="1.2"/>
<line x1="347.10" y1="112.50" x2="351.90" y2="112.50" stroke="#000" stroke-width="1.2"/>
<rect x="370.08" y="60.62" width="8.90" height="74.68" fill="#000"/>
<line x1="374.50" y1="60.62" x2="374.50" y2="57.00" stroke="#000" stroke-width="1.2"/>
<line x1="372.10" y1="57.50" x2="376.90" y2="57.50" stroke="#000" stroke-width="1.2"/>
<rect x="395.41" y="97.45" width="8.90" height="37.85" fill="#000"/>
<rect x="420.74" y="92.88" width="8.90" height="42.43" fill="#000"/>
<line x1="425.50" y1="92.88" x2="425.50" y2="83.00" stroke="#000" stroke-width="1.2"/>
<line x1="423.10" y1="83.50" x2="427.90" y2="83.50" stroke="#000" stroke-width="1.2"/>
<rect x="446.07" y="94.22" width="8.90" height="41.08" fill="#000"/>
<line x1="450.50" y1="94.22" x2="450.50" y2="77.00" stroke="#000" stroke-width="1.2"/>
<line x1="448.10" y1="77.50" x2="452.90" y2="77.50" stroke="#000" stroke-width="1.2"/>
<rect x="471.40" y="91.53" width="8.90" height="43.78" fill="#000"/>
<line x1="475.50" y1="91.53" x2="475.50" y2="80.00" stroke="#000" stroke-width="1.2"/>
<line x1="473.10" y1="80.50" x2="477.90" y2="80.50" stroke="#000" stroke-width="1.2"/>
<rect x="496.73" y="89.65" width="8.90" height="45.65" fill="#000"/>
<line x1="501.50" y1="89.65" x2="501.50" y2="78.00" stroke="#000" stroke-width="1.2"/>
<line x1="499.10" y1="78.50" x2="503.90" y2="78.50" stroke="#000" stroke-width="1.2"/>
<text x="359.0" y="49.0" font-size="6.5" text-anchor="middle" font-weight="bold" textLength="6.6" lengthAdjust="spacingAndGlyphs" fill="#111" stroke="#111" stroke-width="0.35">§§</text>
<line x1="346.20" y1="52.50" x2="370.40" y2="52.50" stroke="#111" stroke-width="1.0"/>
<text x="398.3" y="94.6" font-size="7.2" font-weight="bold" fill="#000" stroke="#000" stroke-width="0.75" stroke-linejoin="round">*</text>
<text x="276.7" y="150.8" font-size="9.3" font-weight="bold" textLength="58.2" lengthAdjust="spacingAndGlyphs" fill="#111">pCXCL8-1 (nM)</text>
<text x="276.7" y="163.5" font-size="9.3" font-weight="bold" textLength="55.5" lengthAdjust="spacingAndGlyphs" fill="#111">CXCL8 (11nM)</text>
<text x="349.2" y="150.6" font-size="8.7" text-anchor="middle" font-weight="bold" textLength="4.5" lengthAdjust="spacingAndGlyphs" fill="#111">0</text>
<text x="374.5" y="150.6" font-size="8.7" text-anchor="middle" font-weight="bold" textLength="4.5" lengthAdjust="spacingAndGlyphs" fill="#111">0</text>
<text x="399.9" y="150.6" font-size="8.7" text-anchor="middle" font-weight="bold" textLength="10.8" lengthAdjust="spacingAndGlyphs" fill="#111">0.5</text>
<text x="425.2" y="150.6" font-size="8.7" text-anchor="middle" font-weight="bold" textLength="4.5" lengthAdjust="spacingAndGlyphs" fill="#111">5</text>
<text x="450.5" y="150.6" font-size="8.7" text-anchor="middle" font-weight="bold" textLength="8.9" lengthAdjust="spacingAndGlyphs" fill="#111">50</text>
<text x="475.8" y="150.6" font-size="8.7" text-anchor="middle" font-weight="bold" textLength="13.4" lengthAdjust="spacingAndGlyphs" fill="#111">500</text>
<text x="501.2" y="150.6" font-size="8.7" text-anchor="middle" font-weight="bold" textLength="17.9" lengthAdjust="spacingAndGlyphs" fill="#111">5000</text>
<text x="349.2" y="165.4" font-size="10.5" text-anchor="middle" font-weight="bold" fill="#111">-</text>
<text x="374.5" y="165.8" font-size="10.5" text-anchor="middle" font-weight="bold" fill="#111">+</text>
<text x="399.9" y="165.8" font-size="10.5" text-anchor="middle" font-weight="bold" fill="#111">+</text>
<text x="425.2" y="165.8" font-size="10.5" text-anchor="middle" font-weight="bold" fill="#111">+</text>
<text x="450.5" y="165.8" font-size="10.5" text-anchor="middle" font-weight="bold" fill="#111">+</text>
<text x="475.8" y="165.8" font-size="10.5" text-anchor="middle" font-weight="bold" fill="#111">+</text>
<text x="501.2" y="165.8" font-size="10.5" text-anchor="middle" font-weight="bold" fill="#111">+</text>
<text x="332.2" y="282.9" font-size="8.6" text-anchor="end" font-weight="bold" textLength="4.5" lengthAdjust="spacingAndGlyphs" fill="#111">0</text>
<text x="332.2" y="267.9" font-size="8.6" text-anchor="end" font-weight="bold" textLength="8.9" lengthAdjust="spacingAndGlyphs" fill="#111">20</text>
<text x="332.2" y="252.9" font-size="8.6" text-anchor="end" font-weight="bold" textLength="8.9" lengthAdjust="spacingAndGlyphs" fill="#111">40</text>
<text x="332.2" y="237.9" font-size="8.6" text-anchor="end" font-weight="bold" textLength="8.9" lengthAdjust="spacingAndGlyphs" fill="#111">60</text>
<text x="332.2" y="222.9" font-size="8.6" text-anchor="end" font-weight="bold" textLength="8.9" lengthAdjust="spacingAndGlyphs" fill="#111">80</text>
<text x="332.2" y="207.9" font-size="8.6" text-anchor="end" font-weight="bold" textLength="13.4" lengthAdjust="spacingAndGlyphs" fill="#111">100</text>
<text x="332.2" y="192.9" font-size="8.6" text-anchor="end" font-weight="bold" textLength="13.4" lengthAdjust="spacingAndGlyphs" fill="#111">120</text>
<text x="332.2" y="177.9" font-size="8.6" text-anchor="end" font-weight="bold" textLength="13.4" lengthAdjust="spacingAndGlyphs" fill="#111">140</text>
<line x1="340.80" y1="279.20" x2="519.00" y2="279.20" stroke="#c4c4c4" stroke-width="1.0"/>
<rect x="348.00" y="265.25" width="9.00" height="13.55" fill="#000"/>
<line x1="352.50" y1="265.25" x2="352.50" y2="264.00" stroke="#000" stroke-width="1.2"/>
<line x1="350.10" y1="264.50" x2="354.90" y2="264.50" stroke="#000" stroke-width="1.2"/>
<rect x="373.30" y="204.50" width="9.00" height="74.30" fill="#000"/>
<rect x="398.60" y="248.97" width="9.00" height="29.83" fill="#000"/>
<line x1="403.50" y1="248.97" x2="403.50" y2="245.00" stroke="#000" stroke-width="1.2"/>
<line x1="401.10" y1="245.50" x2="405.90" y2="245.50" stroke="#000" stroke-width="1.2"/>
<rect x="423.90" y="251.97" width="9.00" height="26.83" fill="#000"/>
<line x1="428.50" y1="251.97" x2="428.50" y2="249.00" stroke="#000" stroke-width="1.2"/>
<line x1="426.10" y1="249.50" x2="430.90" y2="249.50" stroke="#000" stroke-width="1.2"/>
<rect x="449.20" y="247.70" width="9.00" height="31.10" fill="#000"/>
<rect x="474.50" y="237.20" width="9.00" height="41.60" fill="#000"/>
<line x1="479.50" y1="237.20" x2="479.50" y2="231.00" stroke="#000" stroke-width="1.2"/>
<line x1="477.10" y1="231.50" x2="481.90" y2="231.50" stroke="#000" stroke-width="1.2"/>
<rect x="499.80" y="225.50" width="9.00" height="53.30" fill="#000"/>
<line x1="504.50" y1="225.50" x2="504.50" y2="223.00" stroke="#000" stroke-width="1.2"/>
<line x1="502.10" y1="223.50" x2="506.90" y2="223.50" stroke="#000" stroke-width="1.2"/>
<text x="361.0" y="196.5" font-size="6.5" text-anchor="middle" font-weight="bold" textLength="13.2" lengthAdjust="spacingAndGlyphs" fill="#111" stroke="#111" stroke-width="0.35">§§§§</text>
<line x1="348.90" y1="199.50" x2="371.70" y2="199.50" stroke="#111" stroke-width="1.0"/>
<text x="396.6 401.5 406.4" y="244.6" font-size="7.2" font-weight="bold" fill="#000" stroke="#000" stroke-width="0.75" stroke-linejoin="round">***</text>
<text x="421.9 426.8 431.7" y="248.8" font-size="7.2" font-weight="bold" fill="#000" stroke="#000" stroke-width="0.75" stroke-linejoin="round">***</text>
<text x="447.2 452.1 457.0" y="247.2" font-size="7.2" font-weight="bold" fill="#000" stroke="#000" stroke-width="0.75" stroke-linejoin="round">***</text>
<text x="472.6 477.5 482.4" y="231.9" font-size="7.2" font-weight="bold" fill="#000" stroke="#000" stroke-width="0.75" stroke-linejoin="round">***</text>
<text x="498.4 503.3" y="223.3" font-size="7.2" font-weight="bold" fill="#000" stroke="#000" stroke-width="0.75" stroke-linejoin="round">**</text>
<text x="275.6" y="294.2" font-size="9.3" font-weight="bold" fill="#111" textLength="64.4" lengthAdjust="spacingAndGlyphs">pCXCL8-1<tspan font-size="6.2" dy="1.4">aa</tspan><tspan dy="-1.4"> (nM)</tspan></text>
<text x="278.3" y="308.9" font-size="9.3" font-weight="bold" textLength="54.9" lengthAdjust="spacingAndGlyphs" fill="#111">CXCL8 (11nM)</text>
<text x="352.5" y="294.3" font-size="8.7" text-anchor="middle" font-weight="bold" textLength="4.5" lengthAdjust="spacingAndGlyphs" fill="#111">0</text>
<text x="377.8" y="294.3" font-size="8.7" text-anchor="middle" font-weight="bold" textLength="4.5" lengthAdjust="spacingAndGlyphs" fill="#111">0</text>
<text x="403.1" y="294.3" font-size="8.7" text-anchor="middle" font-weight="bold" textLength="10.8" lengthAdjust="spacingAndGlyphs" fill="#111">0.5</text>
<text x="428.4" y="294.3" font-size="8.7" text-anchor="middle" font-weight="bold" textLength="4.5" lengthAdjust="spacingAndGlyphs" fill="#111">5</text>
<text x="453.7" y="294.3" font-size="8.7" text-anchor="middle" font-weight="bold" textLength="8.9" lengthAdjust="spacingAndGlyphs" fill="#111">50</text>
<text x="479.0" y="294.3" font-size="8.7" text-anchor="middle" font-weight="bold" textLength="13.4" lengthAdjust="spacingAndGlyphs" fill="#111">500</text>
<text x="504.3" y="294.3" font-size="8.7" text-anchor="middle" font-weight="bold" textLength="17.9" lengthAdjust="spacingAndGlyphs" fill="#111">5000</text>
<text x="352.5" y="311.6" font-size="10.5" text-anchor="middle" font-weight="bold" fill="#111">-</text>
<text x="377.8" y="312.0" font-size="10.5" text-anchor="middle" font-weight="bold" fill="#111">+</text>
<text x="403.1" y="312.0" font-size="10.5" text-anchor="middle" font-weight="bold" fill="#111">+</text>
<text x="428.4" y="312.0" font-size="10.5" text-anchor="middle" font-weight="bold" fill="#111">+</text>
<text x="453.7" y="312.0" font-size="10.5" text-anchor="middle" font-weight="bold" fill="#111">+</text>
<text x="479.0" y="312.0" font-size="10.5" text-anchor="middle" font-weight="bold" fill="#111">+</text>
<text x="504.3" y="312.0" font-size="10.5" text-anchor="middle" font-weight="bold" fill="#111">+</text>
<text x="330.5" y="430.6" font-size="8.6" text-anchor="end" font-weight="bold" textLength="4.5" lengthAdjust="spacingAndGlyphs" fill="#111">0</text>
<text x="330.5" y="415.6" font-size="8.6" text-anchor="end" font-weight="bold" textLength="8.9" lengthAdjust="spacingAndGlyphs" fill="#111">20</text>
<text x="330.5" y="400.6" font-size="8.6" text-anchor="end" font-weight="bold" textLength="8.9" lengthAdjust="spacingAndGlyphs" fill="#111">40</text>
<text x="330.5" y="385.6" font-size="8.6" text-anchor="end" font-weight="bold" textLength="8.9" lengthAdjust="spacingAndGlyphs" fill="#111">60</text>
<text x="330.5" y="370.6" font-size="8.6" text-anchor="end" font-weight="bold" textLength="8.9" lengthAdjust="spacingAndGlyphs" fill="#111">80</text>
<text x="330.5" y="355.6" font-size="8.6" text-anchor="end" font-weight="bold" textLength="13.4" lengthAdjust="spacingAndGlyphs" fill="#111">100</text>
<text x="330.5" y="340.6" font-size="8.6" text-anchor="end" font-weight="bold" textLength="13.4" lengthAdjust="spacingAndGlyphs" fill="#111">120</text>
<text x="330.5" y="325.6" font-size="8.6" text-anchor="end" font-weight="bold" textLength="13.4" lengthAdjust="spacingAndGlyphs" fill="#111">140</text>
<line x1="338.00" y1="426.90" x2="512.00" y2="426.90" stroke="#c4c4c4" stroke-width="1.0"/>
<rect x="347.70" y="421.95" width="8.20" height="4.55" fill="#000"/>
<line x1="351.50" y1="421.95" x2="351.50" y2="421.00" stroke="#000" stroke-width="1.2"/>
<line x1="349.10" y1="421.50" x2="353.90" y2="421.50" stroke="#000" stroke-width="1.2"/>
<rect x="372.47" y="352.57" width="8.20" height="73.93" fill="#000"/>
<line x1="376.50" y1="352.57" x2="376.50" y2="346.00" stroke="#000" stroke-width="1.2"/>
<line x1="374.10" y1="346.50" x2="378.90" y2="346.50" stroke="#000" stroke-width="1.2"/>
<rect x="397.24" y="385.50" width="8.20" height="41.00" fill="#000"/>
<line x1="401.50" y1="385.50" x2="401.50" y2="382.00" stroke="#000" stroke-width="1.2"/>
<line x1="399.10" y1="382.50" x2="403.90" y2="382.50" stroke="#000" stroke-width="1.2"/>
<rect x="422.01" y="398.93" width="8.20" height="27.57" fill="#000"/>
<line x1="426.50" y1="398.93" x2="426.50" y2="394.00" stroke="#000" stroke-width="1.2"/>
<line x1="424.10" y1="394.50" x2="428.90" y2="394.50" stroke="#000" stroke-width="1.2"/>
<rect x="446.78" y="401.70" width="8.20" height="24.80" fill="#000"/>
<line x1="450.50" y1="401.70" x2="450.50" y2="399.00" stroke="#000" stroke-width="1.2"/>
<line x1="448.10" y1="399.50" x2="452.90" y2="399.50" stroke="#000" stroke-width="1.2"/>
<rect x="471.55" y="400.20" width="8.20" height="26.30" fill="#000"/>
<line x1="475.50" y1="400.20" x2="475.50" y2="397.00" stroke="#000" stroke-width="1.2"/>
<line x1="473.10" y1="397.50" x2="477.90" y2="397.50" stroke="#000" stroke-width="1.2"/>
<rect x="496.32" y="390.82" width="8.20" height="35.68" fill="#000"/>
<line x1="500.50" y1="390.82" x2="500.50" y2="390.00" stroke="#000" stroke-width="1.2"/>
<line x1="498.10" y1="390.50" x2="502.90" y2="390.50" stroke="#000" stroke-width="1.2"/>
<text x="361.8" y="337.9" font-size="6.5" text-anchor="middle" font-weight="bold" textLength="9.9" lengthAdjust="spacingAndGlyphs" fill="#111" stroke="#111" stroke-width="0.35">§§§</text>
<line x1="349.70" y1="339.50" x2="374.40" y2="339.50" stroke="#111" stroke-width="1.0"/>
<text x="394.8 399.7 404.6" y="383.1" font-size="7.2" font-weight="bold" fill="#000" stroke="#000" stroke-width="0.75" stroke-linejoin="round">***</text>
<text x="419.5 424.4 429.3" y="394.4" font-size="7.2" font-weight="bold" fill="#000" stroke="#000" stroke-width="0.75" stroke-linejoin="round">***</text>
<text x="444.2 449.1 454.0" y="399.2" font-size="7.2" font-weight="bold" fill="#000" stroke="#000" stroke-width="0.75" stroke-linejoin="round">***</text>
<text x="469.3 474.2 479.1" y="398.4" font-size="7.2" font-weight="bold" fill="#000" stroke="#000" stroke-width="0.75" stroke-linejoin="round">***</text>
<text x="279.4" y="441.7" font-size="9.3" font-weight="bold" textLength="58.1" lengthAdjust="spacingAndGlyphs" fill="#111">pCXCL8-2 (nM)</text>
<text x="279.4" y="454.8" font-size="9.3" font-weight="bold" textLength="55.2" lengthAdjust="spacingAndGlyphs" fill="#111">CXCL8 (11nM)</text>
<text x="351.8" y="441.8" font-size="8.7" text-anchor="middle" font-weight="bold" textLength="4.5" lengthAdjust="spacingAndGlyphs" fill="#111">0</text>
<text x="376.6" y="441.8" font-size="8.7" text-anchor="middle" font-weight="bold" textLength="4.5" lengthAdjust="spacingAndGlyphs" fill="#111">0</text>
<text x="401.3" y="441.8" font-size="8.7" text-anchor="middle" font-weight="bold" textLength="10.8" lengthAdjust="spacingAndGlyphs" fill="#111">0.5</text>
<text x="426.1" y="441.8" font-size="8.7" text-anchor="middle" font-weight="bold" textLength="4.5" lengthAdjust="spacingAndGlyphs" fill="#111">5</text>
<text x="450.9" y="441.8" font-size="8.7" text-anchor="middle" font-weight="bold" textLength="8.9" lengthAdjust="spacingAndGlyphs" fill="#111">50</text>
<text x="475.6" y="441.8" font-size="8.7" text-anchor="middle" font-weight="bold" textLength="13.4" lengthAdjust="spacingAndGlyphs" fill="#111">500</text>
<text x="500.4" y="441.8" font-size="8.7" text-anchor="middle" font-weight="bold" textLength="17.9" lengthAdjust="spacingAndGlyphs" fill="#111">5000</text>
<text x="351.8" y="456.2" font-size="10.5" text-anchor="middle" font-weight="bold" fill="#111">-</text>
<text x="376.6" y="456.6" font-size="10.5" text-anchor="middle" font-weight="bold" fill="#111">+</text>
<text x="401.3" y="456.6" font-size="10.5" text-anchor="middle" font-weight="bold" fill="#111">+</text>
<text x="426.1" y="456.6" font-size="10.5" text-anchor="middle" font-weight="bold" fill="#111">+</text>
<text x="450.9" y="456.6" font-size="10.5" text-anchor="middle" font-weight="bold" fill="#111">+</text>
<text x="475.6" y="456.6" font-size="10.5" text-anchor="middle" font-weight="bold" fill="#111">+</text>
<text x="500.4" y="456.6" font-size="10.5" text-anchor="middle" font-weight="bold" fill="#111">+</text>
<text x="331.4" y="577.8" font-size="8.6" text-anchor="end" font-weight="bold" textLength="4.5" lengthAdjust="spacingAndGlyphs" fill="#111">0</text>
<text x="331.4" y="562.8" font-size="8.6" text-anchor="end" font-weight="bold" textLength="8.9" lengthAdjust="spacingAndGlyphs" fill="#111">20</text>
<text x="331.4" y="547.8" font-size="8.6" text-anchor="end" font-weight="bold" textLength="8.9" lengthAdjust="spacingAndGlyphs" fill="#111">40</text>
<text x="331.4" y="532.8" font-size="8.6" text-anchor="end" font-weight="bold" textLength="8.9" lengthAdjust="spacingAndGlyphs" fill="#111">60</text>
<text x="331.4" y="517.8" font-size="8.6" text-anchor="end" font-weight="bold" textLength="8.9" lengthAdjust="spacingAndGlyphs" fill="#111">80</text>
<text x="331.4" y="502.8" font-size="8.6" text-anchor="end" font-weight="bold" textLength="13.4" lengthAdjust="spacingAndGlyphs" fill="#111">100</text>
<text x="331.4" y="487.8" font-size="8.6" text-anchor="end" font-weight="bold" textLength="13.4" lengthAdjust="spacingAndGlyphs" fill="#111">120</text>
<text x="331.4" y="472.8" font-size="8.6" text-anchor="end" font-weight="bold" textLength="13.4" lengthAdjust="spacingAndGlyphs" fill="#111">140</text>
<line x1="340.80" y1="574.10" x2="516.00" y2="574.10" stroke="#c4c4c4" stroke-width="1.0"/>
<rect x="348.30" y="558.27" width="8.20" height="15.42" fill="#000"/>
<line x1="352.50" y1="558.27" x2="352.50" y2="556.00" stroke="#000" stroke-width="1.2"/>
<line x1="350.10" y1="556.50" x2="354.90" y2="556.50" stroke="#000" stroke-width="1.2"/>
<rect x="373.63" y="499.85" width="8.20" height="73.85" fill="#000"/>
<line x1="377.50" y1="499.85" x2="377.50" y2="494.00" stroke="#000" stroke-width="1.2"/>
<line x1="375.10" y1="494.50" x2="379.90" y2="494.50" stroke="#000" stroke-width="1.2"/>
<rect x="398.96" y="538.40" width="8.20" height="35.30" fill="#000"/>
<line x1="403.50" y1="538.40" x2="403.50" y2="534.00" stroke="#000" stroke-width="1.2"/>
<line x1="401.10" y1="534.50" x2="405.90" y2="534.50" stroke="#000" stroke-width="1.2"/>
<rect x="424.29" y="541.55" width="8.20" height="32.15" fill="#000"/>
<line x1="428.50" y1="541.55" x2="428.50" y2="531.00" stroke="#000" stroke-width="1.2"/>
<line x1="426.10" y1="531.50" x2="430.90" y2="531.50" stroke="#000" stroke-width="1.2"/>
<rect x="449.62" y="548.30" width="8.20" height="25.40" fill="#000"/>
<line x1="453.50" y1="548.30" x2="453.50" y2="542.00" stroke="#000" stroke-width="1.2"/>
<line x1="451.10" y1="542.50" x2="455.90" y2="542.50" stroke="#000" stroke-width="1.2"/>
<rect x="474.95" y="538.40" width="8.20" height="35.30" fill="#000"/>
<line x1="479.50" y1="538.40" x2="479.50" y2="536.00" stroke="#000" stroke-width="1.2"/>
<line x1="477.10" y1="536.50" x2="481.90" y2="536.50" stroke="#000" stroke-width="1.2"/>
<rect x="500.28" y="528.12" width="8.20" height="45.57" fill="#000"/>
<line x1="504.50" y1="528.12" x2="504.50" y2="522.00" stroke="#000" stroke-width="1.2"/>
<line x1="502.10" y1="522.50" x2="506.90" y2="522.50" stroke="#000" stroke-width="1.2"/>
<text x="359.0" y="485.7" font-size="6.5" text-anchor="middle" font-weight="bold" textLength="9.9" lengthAdjust="spacingAndGlyphs" fill="#111" stroke="#111" stroke-width="0.35">§§§</text>
<line x1="348.30" y1="489.50" x2="371.70" y2="489.50" stroke="#111" stroke-width="1.0"/>
<text x="396.6 401.5 406.4" y="533.2" font-size="7.2" font-weight="bold" fill="#000" stroke="#000" stroke-width="0.75" stroke-linejoin="round">***</text>
<text x="421.6 426.5 431.4" y="530.8" font-size="7.2" font-weight="bold" fill="#000" stroke="#000" stroke-width="0.75" stroke-linejoin="round">***</text>
<text x="447.1 452.0 456.9" y="541.5" font-size="7.2" font-weight="bold" fill="#000" stroke="#000" stroke-width="0.75" stroke-linejoin="round">***</text>
<text x="472.7 477.6 482.5" y="536.1" font-size="7.2" font-weight="bold" fill="#000" stroke="#000" stroke-width="0.75" stroke-linejoin="round">***</text>
<text x="500.5 505.4" y="522.4" font-size="7.2" font-weight="bold" fill="#000" stroke="#000" stroke-width="0.75" stroke-linejoin="round">**</text>
<text x="274.0" y="590.3" font-size="9.3" font-weight="bold" textLength="63.5" lengthAdjust="spacingAndGlyphs" fill="#111">pCXCL12-1 (nM)</text>
<text x="274.0" y="602.9" font-size="9.3" font-weight="bold" textLength="58.7" lengthAdjust="spacingAndGlyphs" fill="#111">CXCL12γ (9nM)</text>
<text x="352.4" y="589.3" font-size="8.7" text-anchor="middle" font-weight="bold" textLength="4.5" lengthAdjust="spacingAndGlyphs" fill="#111">0</text>
<text x="377.7" y="589.3" font-size="8.7" text-anchor="middle" font-weight="bold" textLength="4.5" lengthAdjust="spacingAndGlyphs" fill="#111">0</text>
<text x="403.1" y="589.3" font-size="8.7" text-anchor="middle" font-weight="bold" textLength="10.8" lengthAdjust="spacingAndGlyphs" fill="#111">0.5</text>
<text x="428.4" y="589.3" font-size="8.7" text-anchor="middle" font-weight="bold" textLength="4.5" lengthAdjust="spacingAndGlyphs" fill="#111">5</text>
<text x="453.7" y="589.3" font-size="8.7" text-anchor="middle" font-weight="bold" textLength="8.9" lengthAdjust="spacingAndGlyphs" fill="#111">50</text>
<text x="479.0" y="589.3" font-size="8.7" text-anchor="middle" font-weight="bold" textLength="13.4" lengthAdjust="spacingAndGlyphs" fill="#111">500</text>
<text x="504.4" y="589.3" font-size="8.7" text-anchor="middle" font-weight="bold" textLength="17.9" lengthAdjust="spacingAndGlyphs" fill="#111">5000</text>
<text x="352.4" y="603.5" font-size="10.5" text-anchor="middle" font-weight="bold" fill="#111">-</text>
<text x="377.7" y="603.9" font-size="10.5" text-anchor="middle" font-weight="bold" fill="#111">+</text>
<text x="403.1" y="603.9" font-size="10.5" text-anchor="middle" font-weight="bold" fill="#111">+</text>
<text x="428.4" y="603.9" font-size="10.5" text-anchor="middle" font-weight="bold" fill="#111">+</text>
<text x="453.7" y="603.9" font-size="10.5" text-anchor="middle" font-weight="bold" fill="#111">+</text>
<text x="479.0" y="603.9" font-size="10.5" text-anchor="middle" font-weight="bold" fill="#111">+</text>
<text x="504.4" y="603.9" font-size="10.5" text-anchor="middle" font-weight="bold" fill="#111">+</text>
<text x="333.8" y="721.6" font-size="8.6" text-anchor="end" font-weight="bold" textLength="4.5" lengthAdjust="spacingAndGlyphs" fill="#111">0</text>
<text x="333.8" y="706.6" font-size="8.6" text-anchor="end" font-weight="bold" textLength="8.9" lengthAdjust="spacingAndGlyphs" fill="#111">20</text>
<text x="333.8" y="691.6" font-size="8.6" text-anchor="end" font-weight="bold" textLength="8.9" lengthAdjust="spacingAndGlyphs" fill="#111">40</text>
<text x="333.8" y="676.6" font-size="8.6" text-anchor="end" font-weight="bold" textLength="8.9" lengthAdjust="spacingAndGlyphs" fill="#111">60</text>
<text x="333.8" y="661.6" font-size="8.6" text-anchor="end" font-weight="bold" textLength="8.9" lengthAdjust="spacingAndGlyphs" fill="#111">80</text>
<text x="333.8" y="646.6" font-size="8.6" text-anchor="end" font-weight="bold" textLength="13.4" lengthAdjust="spacingAndGlyphs" fill="#111">100</text>
<text x="333.8" y="631.6" font-size="8.6" text-anchor="end" font-weight="bold" textLength="13.4" lengthAdjust="spacingAndGlyphs" fill="#111">120</text>
<text x="333.8" y="616.6" font-size="8.6" text-anchor="end" font-weight="bold" textLength="13.4" lengthAdjust="spacingAndGlyphs" fill="#111">140</text>
<line x1="342.00" y1="717.90" x2="520.00" y2="717.90" stroke="#c4c4c4" stroke-width="1.0"/>
<rect x="350.75" y="702.08" width="8.10" height="15.42" fill="#000"/>
<line x1="354.50" y1="702.08" x2="354.50" y2="700.00" stroke="#000" stroke-width="1.2"/>
<line x1="352.10" y1="700.50" x2="356.90" y2="700.50" stroke="#000" stroke-width="1.2"/>
<rect x="375.95" y="643.65" width="8.10" height="73.85" fill="#000"/>
<line x1="380.50" y1="643.65" x2="380.50" y2="633.00" stroke="#000" stroke-width="1.2"/>
<line x1="378.10" y1="633.50" x2="382.90" y2="633.50" stroke="#000" stroke-width="1.2"/>
<rect x="401.15" y="651.15" width="8.10" height="66.35" fill="#000"/>
<line x1="405.50" y1="651.15" x2="405.50" y2="648.00" stroke="#000" stroke-width="1.2"/>
<line x1="403.10" y1="648.50" x2="407.90" y2="648.50" stroke="#000" stroke-width="1.2"/>
<rect x="426.35" y="654.45" width="8.10" height="63.05" fill="#000"/>
<line x1="430.50" y1="654.45" x2="430.50" y2="652.00" stroke="#000" stroke-width="1.2"/>
<line x1="428.10" y1="652.50" x2="432.90" y2="652.50" stroke="#000" stroke-width="1.2"/>
<rect x="451.55" y="655.73" width="8.10" height="61.77" fill="#000"/>
<line x1="455.50" y1="655.73" x2="455.50" y2="653.00" stroke="#000" stroke-width="1.2"/>
<line x1="453.10" y1="653.50" x2="457.90" y2="653.50" stroke="#000" stroke-width="1.2"/>
<rect x="476.75" y="660.60" width="8.10" height="56.90" fill="#000"/>
<line x1="480.50" y1="660.60" x2="480.50" y2="654.00" stroke="#000" stroke-width="1.2"/>
<line x1="478.10" y1="654.50" x2="482.90" y2="654.50" stroke="#000" stroke-width="1.2"/>
<rect x="501.95" y="666.45" width="8.10" height="51.05" fill="#000"/>
<line x1="506.50" y1="666.45" x2="506.50" y2="663.00" stroke="#000" stroke-width="1.2"/>
<line x1="504.10" y1="663.50" x2="508.90" y2="663.50" stroke="#000" stroke-width="1.2"/>
<text x="365.0" y="627.5" font-size="6.5" text-anchor="middle" font-weight="bold" textLength="6.6" lengthAdjust="spacingAndGlyphs" fill="#111" stroke="#111" stroke-width="0.35">§§</text>
<line x1="351.50" y1="629.50" x2="375.80" y2="629.50" stroke="#111" stroke-width="1.0"/>
<text x="504.3" y="661.5" font-size="7.2" font-weight="bold" fill="#000" stroke="#000" stroke-width="0.75" stroke-linejoin="round">*</text>
<text x="281.5" y="735.8" font-size="9.3" font-weight="bold" textLength="53.4" lengthAdjust="spacingAndGlyphs" fill="#111">pCCL5-3 (nM)</text>
<text x="281.5" y="747.9" font-size="9.3" font-weight="bold" textLength="50.7" lengthAdjust="spacingAndGlyphs" fill="#111">CCL5 (13nM)</text>
<text x="354.8" y="733.2" font-size="8.7" text-anchor="middle" font-weight="bold" textLength="4.5" lengthAdjust="spacingAndGlyphs" fill="#111">0</text>
<text x="380.0" y="733.2" font-size="8.7" text-anchor="middle" font-weight="bold" textLength="4.5" lengthAdjust="spacingAndGlyphs" fill="#111">0</text>
<text x="405.2" y="733.2" font-size="8.7" text-anchor="middle" font-weight="bold" textLength="10.8" lengthAdjust="spacingAndGlyphs" fill="#111">0.5</text>
<text x="430.4" y="733.2" font-size="8.7" text-anchor="middle" font-weight="bold" textLength="4.5" lengthAdjust="spacingAndGlyphs" fill="#111">5</text>
<text x="455.6" y="733.2" font-size="8.7" text-anchor="middle" font-weight="bold" textLength="8.9" lengthAdjust="spacingAndGlyphs" fill="#111">50</text>
<text x="480.8" y="733.2" font-size="8.7" text-anchor="middle" font-weight="bold" textLength="13.4" lengthAdjust="spacingAndGlyphs" fill="#111">500</text>
<text x="506.0" y="733.2" font-size="8.7" text-anchor="middle" font-weight="bold" textLength="17.9" lengthAdjust="spacingAndGlyphs" fill="#111">5000</text>
<text x="354.8" y="749.9" font-size="10.5" text-anchor="middle" font-weight="bold" fill="#111">-</text>
<text x="380.0" y="750.3" font-size="10.5" text-anchor="middle" font-weight="bold" fill="#111">+</text>
<text x="405.2" y="750.3" font-size="10.5" text-anchor="middle" font-weight="bold" fill="#111">+</text>
<text x="430.4" y="750.3" font-size="10.5" text-anchor="middle" font-weight="bold" fill="#111">+</text>
<text x="455.6" y="750.3" font-size="10.5" text-anchor="middle" font-weight="bold" fill="#111">+</text>
<text x="480.8" y="750.3" font-size="10.5" text-anchor="middle" font-weight="bold" fill="#111">+</text>
<text x="506.0" y="750.3" font-size="10.5" text-anchor="middle" font-weight="bold" fill="#111">+</text>
<text x="135.1" y="8.6" font-size="10.8" font-weight="bold" textLength="52.1" lengthAdjust="spacingAndGlyphs" fill="#111">HCMEC/D3</text>
<text x="401.4" y="8.8" font-size="10.7" font-weight="bold" textLength="35.0" lengthAdjust="spacingAndGlyphs" fill="#111">HBMEC</text>
<rect x="460.20" y="2.10" width="59.60" height="33.70" fill="#fff" stroke="#000" stroke-width="2.0"/>
<rect x="464.90" y="6.00" width="11.40" height="9.60" fill="#000"/>
<rect x="465.80" y="22.20" width="9.70" height="8.00" fill="#fff" stroke="#000" stroke-width="1.9"/>
<text x="479.8" y="13.6" font-size="9.8" font-weight="bold" textLength="32.6" lengthAdjust="spacingAndGlyphs" fill="#111" stroke="#111" stroke-width="0.25">PEPTIDE</text>
<text x="479.8" y="28.1" font-size="9.8" font-weight="bold" textLength="33.6" lengthAdjust="spacingAndGlyphs" fill="#111" stroke="#111" stroke-width="0.25">CONTROL</text>
<g transform="translate(10.9 471.2) rotate(-90)" font-size="13.7" fill="#111" stroke="#111" stroke-width="0.6">
<text x="0" y="0" textLength="130.7" lengthAdjust="spacingAndGlyphs">TRANSENDOTHELIAL</text>
<text x="132.9" y="0" textLength="75.8" lengthAdjust="spacingAndGlyphs">MIGRATION</text>
<text x="213.8" y="0" textLength="20.6" lengthAdjust="spacingAndGlyphs">(%)</text>
</g>
</svg>
</body>
</html>
